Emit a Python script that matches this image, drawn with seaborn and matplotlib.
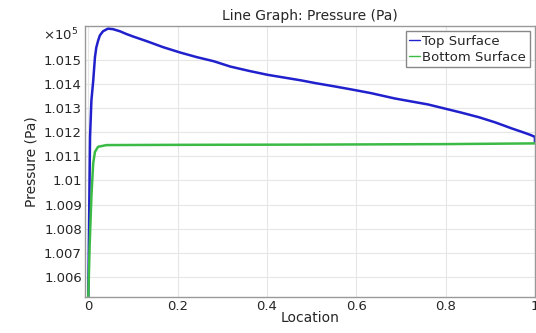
import matplotlib
matplotlib.use('Agg')
import matplotlib.pyplot as plt
import seaborn as sns
from matplotlib.ticker import FuncFormatter

# data (pressure in Pa)
top_x = [0.0, 0.002, 0.004, 0.007, 0.011, 0.015, 0.018, 0.022, 0.026, 0.033,
         0.044, 0.055, 0.071, 0.085, 0.101, 0.131, 0.168, 0.206, 0.243, 0.281,
         0.318, 0.36, 0.401, 0.44, 0.476, 0.51, 0.551, 0.59, 0.633, 0.686,
         0.761, 0.836, 0.875, 0.911, 0.948, 0.975, 0.99, 1.0, 1.0]
top_p = [100500, 100850, 101180, 101330, 101410, 101510, 101550, 101578, 101600, 101617,
         101628, 101626, 101617, 101606, 101595, 101576, 101551, 101529, 101510, 101493,
         101471, 101453, 101437, 101425, 101414, 101402, 101389, 101376, 101361, 101339,
         101314, 101280, 101261, 101240, 101215, 101198, 101188, 101180, 101155]

bottom_x = [0.0, 0.003, 0.007, 0.011, 0.015, 0.022, 0.041, 0.2, 0.5, 0.8, 1.0]
bottom_p = [100510, 100725, 100932, 101070, 101118, 101139, 101146, 101147, 101148,
            101150, 101153]

yticks = [100600, 100700, 100800, 100900, 101000, 101100, 101200, 101300, 101400, 101500]
xticks = [0, 0.2, 0.4, 0.6, 0.8, 1]

sns.set_style('whitegrid')
plt.rcParams['font.family'] = ['DejaVu Sans']

fig = plt.figure(figsize=(5.36, 3.33), dpi=100)
ax = fig.add_axes([0.158, 0.108, 0.84, 0.814])

sns.lineplot(x=top_x, y=top_p, ax=ax, color='#2020cc', linewidth=1.8,
             estimator=None, sort=False, label='Top Surface')
sns.lineplot(x=bottom_x, y=bottom_p, ax=ax, color='#3cba46', linewidth=1.8,
             estimator=None, sort=False, label='Bottom Surface')

ax.set_xlim(-0.008, 1.0)
ax.set_ylim(100517, 101639)
ax.set_xticks(xticks)
ax.set_yticks(yticks)
ax.xaxis.set_major_formatter(FuncFormatter(lambda v, p: '%g' % v))
ax.yaxis.set_major_formatter(FuncFormatter(lambda v, p: '%g' % round(v / 1e5, 4)))
ax.tick_params(labelsize=9.5, length=3, color='#888888', pad=2)
ax.tick_params(axis='x', direction='in')
ax.tick_params(axis='y', direction='in')
ax.grid(True, color='#e6e6e6', linewidth=0.8)
for s in ax.spines.values():
    s.set_color('#999999')
    s.set_linewidth(1.0)

ax.set_title('Line Graph: Pressure (Pa)', fontsize=10, pad=4)
ax.set_xlabel('Location', fontsize=10, labelpad=-1)
ax.set_ylabel('Pressure (Pa)', fontsize=10, labelpad=4)
ax.text(-0.015, 0.965, r'$\times10^5$', transform=ax.transAxes, ha='right',
        va='center', fontsize=9.5)

leg = ax.legend(loc='upper right', fontsize=9.5, handlelength=0.8, handletextpad=0.2,
                borderpad=0.25, labelspacing=0.25, fancybox=False, framealpha=1,
                borderaxespad=0.4)
leg.get_frame().set_edgecolor('#888888')
for line in leg.get_lines():
    line.set_linewidth(1.0)

fig.savefig('out.png', dpi=100)
